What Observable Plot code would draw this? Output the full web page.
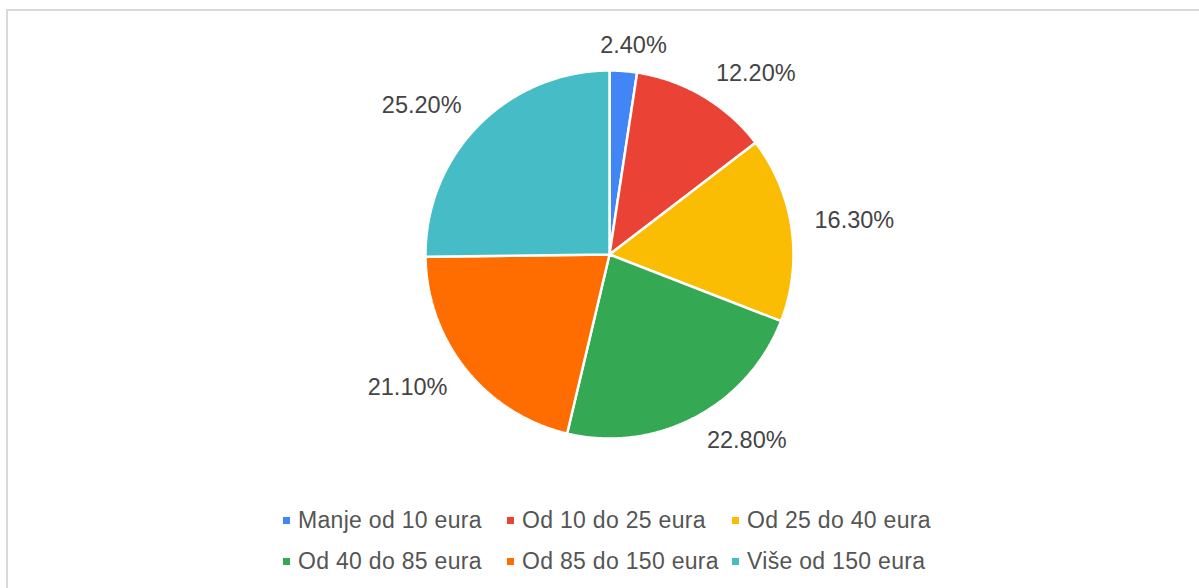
<!DOCTYPE html>
<html>
<head>
<meta charset="utf-8">
<script src="https://cdn.jsdelivr.net/npm/d3@7"></script>
<script src="https://cdn.jsdelivr.net/npm/@observablehq/plot@0.6"></script>
<style>
  html, body { margin: 0; padding: 0; background: #fff; overflow: hidden; }
  #wrap { position: relative; width: 1199px; height: 588px; font-family: "Liberation Sans", Arial, sans-serif; }
  #frame { position: absolute; left: 6px; top: 9px; width: 1300px; height: 700px;
           border-top: 2px solid #d9d9d9; border-left: 2px solid #d9d9d9; pointer-events: none; z-index: 2; }
  #chart { position: absolute; left: 0; top: 0; }
  #legend { position: absolute; left: 283px; top: 500px; display: grid;
            grid-template-columns: 224px 225px 260px; }
  .item { display: flex; align-items: center; height: 41px; font-size: 23px; letter-spacing: 0.3px; color: #555; white-space: nowrap; }
  .sw { width: 7px; height: 7px; margin-right: 8px; flex: none; }
</style>
</head>
<body>
<div id="wrap">
  <div id="chart"></div>
  <div id="legend"></div>
  <div id="frame"></div>
</div>
<script>
const categories = ["Manje od 10 eura", "Od 10 do 25 eura", "Od 25 do 40 eura", "Od 40 do 85 eura", "Od 85 do 150 eura", "Više od 150 eura"];
const values = [2.4, 12.2, 16.3, 22.8, 21.1, 25.2];
const colors = ["#4285F4", "#EA4335", "#FBBC04", "#34A853", "#FF6D01", "#46BDC6"];

// Build slice outlines (geometry derived from the values) and label anchors
const total = d3.sum(values);
const points = [];
const labels = [];
let acc = 0;
categories.forEach((cat, i) => {
  const a0 = acc / total * 2 * Math.PI;
  acc += values[i];
  const a1 = acc / total * 2 * Math.PI;
  const n = Math.max(2, Math.ceil((a1 - a0) / (Math.PI / 360)));
  points.push({cat, x: 0, y: 0});
  for (let k = 0; k <= n; k++) {
    const a = a0 + (a1 - a0) * k / n;
    points.push({cat, x: Math.sin(a), y: Math.cos(a)});
  }
  points.push({cat, x: 0, y: 0});
  const am = (a0 + a1) / 2;
  const s = Math.sin(am), c = Math.cos(am);
  labels.push({
    cat,
    text: values[i].toFixed(2) + "%",
    x: 1.114 * s + 0.228 * Math.max(-1, Math.min(1, s / 0.37)),
    y: 1.114 * c + 0.027 * Math.sign(c)
  });
});

const chart = Plot.plot({
  width: 1199,
  height: 490,
  marginLeft: 425,
  marginRight: 406,
  marginTop: 70,
  marginBottom: 52,
  x: {domain: [-1, 1], axis: null},
  y: {domain: [-1, 1], axis: null},
  color: {domain: categories, range: colors},
  style: {background: "transparent", overflow: "visible", fontFamily: "'Liberation Sans', Arial, sans-serif"},
  marks: [
    Plot.line(points, {x: "x", y: "y", z: "cat", fill: "cat", stroke: "white", strokeWidth: 2.5, strokeLinejoin: "miter", curve: "linear"}),
    Plot.text(labels, {x: "x", y: "y", text: "text", fontSize: 23.5, fill: "#444"})
  ]
});
document.getElementById("chart").appendChild(chart);

const legend = document.getElementById("legend");
categories.forEach((cat, i) => {
  const item = document.createElement("div");
  item.className = "item";
  const sw = document.createElement("span");
  sw.className = "sw";
  sw.style.background = colors[i];
  const t = document.createElement("span");
  t.textContent = cat;
  item.appendChild(sw);
  item.appendChild(t);
  legend.appendChild(item);
});
</script>
</body>
</html>
